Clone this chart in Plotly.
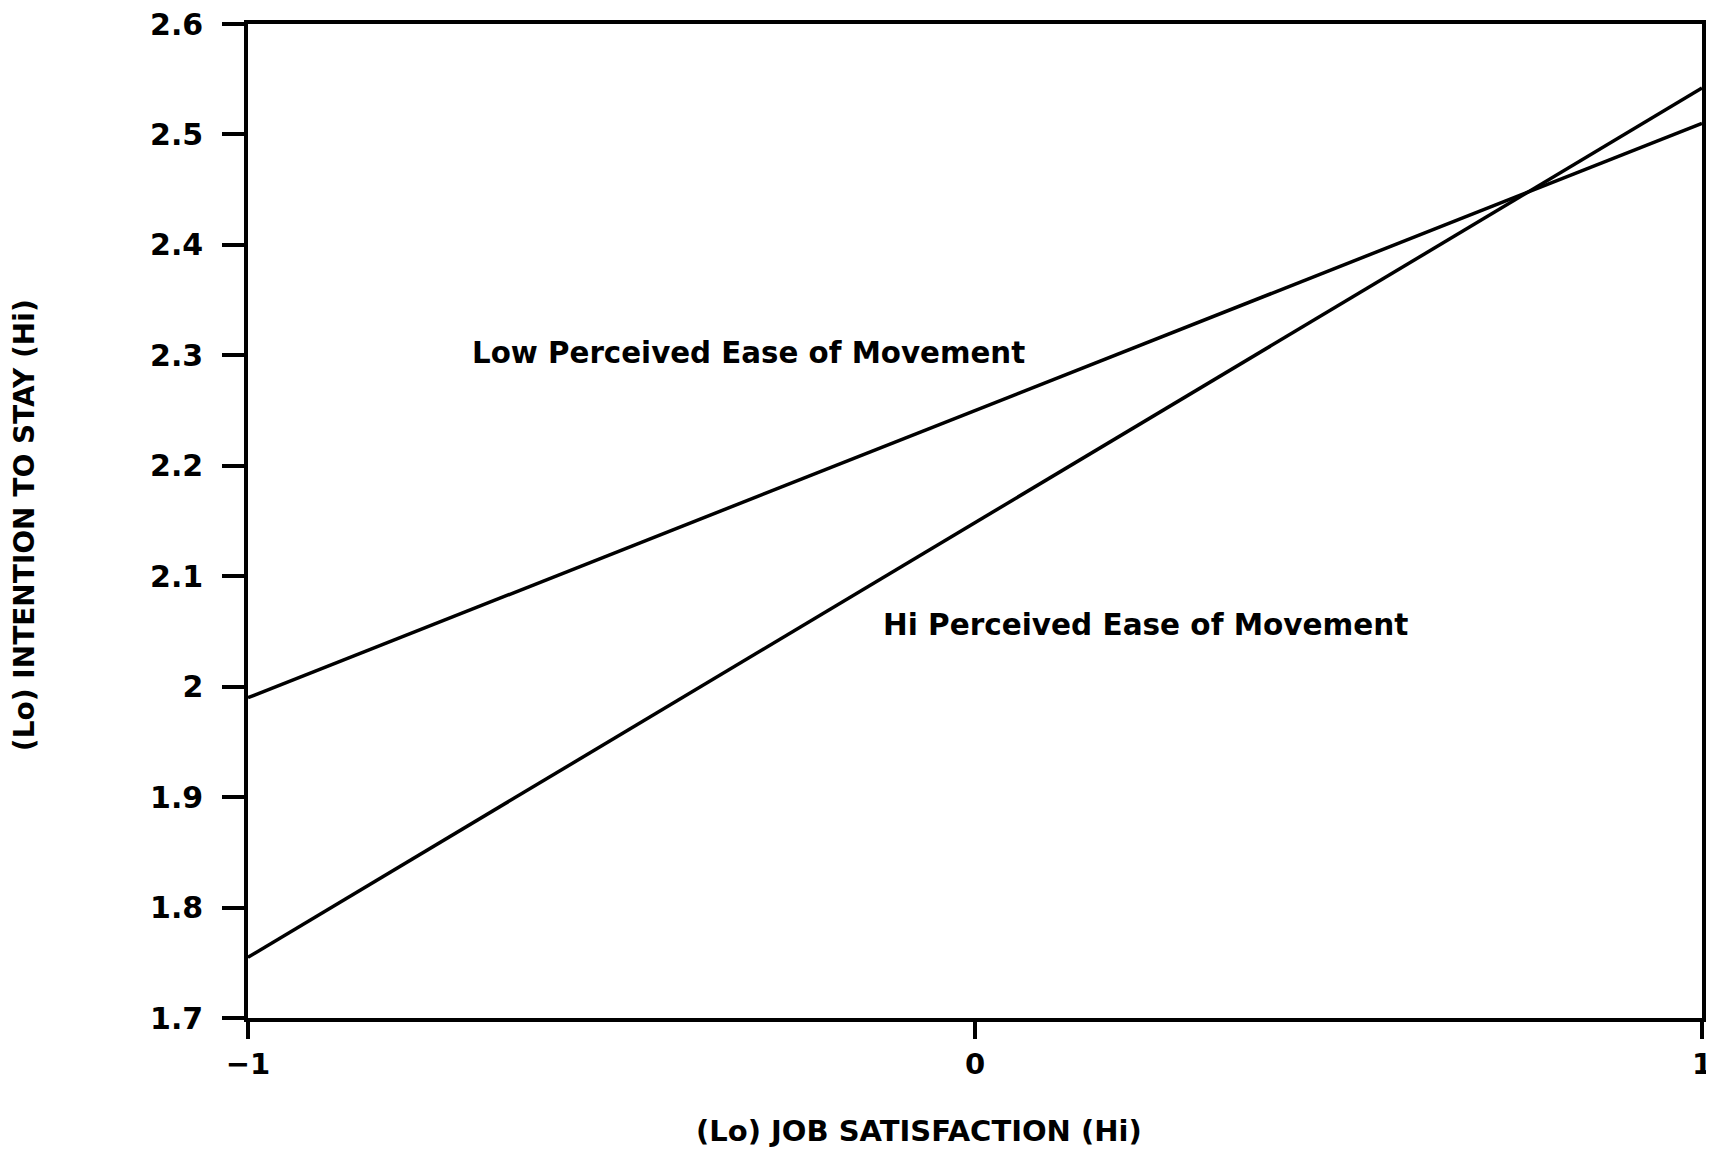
import plotly.graph_objects as go

x_vals = [-1, 1]
low_ease = [1.99, 2.51]
hi_ease = [1.755, 2.542]
y_ticks = [1.7, 1.8, 1.9, 2.0, 2.1, 2.2, 2.3, 2.4, 2.5, 2.6]
y_tick_text = ["1.7", "1.8", "1.9", "2", "2.1", "2.2", "2.3", "2.4", "2.5", "2.6"]
x_ticks = [-1, 0, 1]
x_tick_text = ["\u22121", "0", "1"]

font_family = "DejaVu Sans, Liberation Sans, Arial, sans-serif"

fig = go.Figure()
fig.add_trace(go.Scatter(x=x_vals, y=low_ease, mode="lines",
                         line=dict(color="black", width=3.5), showlegend=False))
fig.add_trace(go.Scatter(x=x_vals, y=hi_ease, mode="lines",
                         line=dict(color="black", width=3.5), showlegend=False))

fig.add_annotation(x=-0.695, y=2.3025, text="Low Perceived Ease of Movement",
                   showarrow=False, xanchor="left", yanchor="middle",
                   font=dict(family=font_family, size=29.3, color="black", weight="bold"))
fig.add_annotation(x=-0.129, y=2.0557, text="Hi Perceived Ease of Movement",
                   showarrow=False, xanchor="left", yanchor="middle",
                   font=dict(family=font_family, size=29.5, color="black", weight="bold"))

# axis titles
fig.add_annotation(xref="paper", yref="paper", x=-0.1536, y=0.4955,
                   text="(Lo) INTENTION TO STAY (Hi)", textangle=-90,
                   showarrow=False, xanchor="center", yanchor="middle",
                   font=dict(family=font_family, size=28, color="black", weight="bold"))
fig.add_annotation(xref="paper", yref="paper", x=0.4616, y=-0.1136,
                   text="(Lo) JOB SATISFACTION (Hi)",
                   showarrow=False, xanchor="center", yanchor="middle",
                   font=dict(family=font_family, size=29, color="black", weight="bold"))

fig.update_layout(
    width=1706, height=1148,
    margin=dict(l=240, r=12, t=16, b=138, autoexpand=False),
    paper_bgcolor="white", plot_bgcolor="white",
    font=dict(family=font_family, color="black"),
)
fig.update_xaxes(
    range=[-1, 1], tickvals=x_ticks, ticktext=x_tick_text,
    showgrid=False, zeroline=False, automargin=False,
    showline=True, linecolor="black", linewidth=3.5, mirror=True,
    ticks="outside", ticklen=17, tickwidth=3.5, tickcolor="black",
    ticklabelstandoff=0, ticklabeloverflow="allow",
    tickfont=dict(family=font_family, size=29, color="black", weight="bold"),
)
fig.update_yaxes(
    range=[1.7, 2.6], tickvals=y_ticks, ticktext=y_tick_text,
    showgrid=False, zeroline=False, automargin=False,
    showline=True, linecolor="black", linewidth=3.5, mirror=True,
    ticks="outside", ticklen=22, tickwidth=3.5, tickcolor="black",
    ticklabelstandoff=13, ticklabeloverflow="allow",
    tickfont=dict(family=font_family, size=30, color="black", weight="bold"),
)

fig.write_html("out.html")
